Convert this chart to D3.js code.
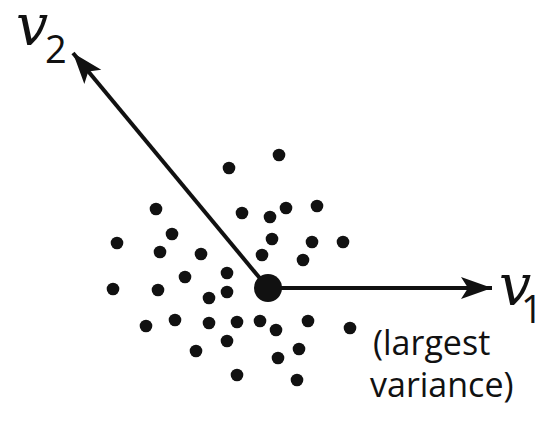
<!DOCTYPE html>
<html>
<head>
<meta charset="utf-8">
<script src="https://cdn.jsdelivr.net/npm/d3@7"></script>
<style>
  body { margin: 0; background: #fff; }
  svg { display: block; }
</style>
</head>
<body>
<div id="chart"></div>
<script>
// scatter points (in pixel-like units)
const dotX = [279, 229, 156, 242, 270, 286, 317, 172, 117, 272, 312, 343, 160, 201, 262, 303,
  185, 227, 113, 158, 227, 209, 146, 175, 209, 237, 260, 276, 308, 350, 227, 196, 299, 278, 237, 297];
const dotY = [155, 168, 209, 213, 217, 208, 206, 234, 243, 239, 242, 242, 252, 254, 255, 260,
  277, 273, 289, 290, 292, 298, 326, 320, 323, 322, 321, 330, 321, 328, 341, 351, 349, 358, 375, 380];

// mean and the two principal directions
const center = { x: 268, y: 288 };
const vectors = [
  { name: "v", sub: "1", x: 492, y: 288 },
  { name: "v", sub: "2", x: 73, y: 53 }
];
const noteLines = ["(largest", "variance)"];

const width = 550;
const height = 422;

const x = d3.scaleLinear().domain([0, 550]).range([0, width]);
const y = d3.scaleLinear().domain([0, 422]).range([0, height]);

const svg = d3
  .select("#chart")
  .append("svg")
  .attr("width", width)
  .attr("height", height);

svg
  .append("defs")
  .append("marker")
  .attr("id", "head")
  .attr("viewBox", "-32 -12 34 24")
  .attr("refX", 0)
  .attr("refY", 0)
  .attr("markerUnits", "userSpaceOnUse")
  .attr("markerWidth", 34)
  .attr("markerHeight", 24)
  .attr("orient", "auto")
  .append("path")
  .attr("d", "M0,0 L-31,-11 L-24,0 L-31,11 Z")
  .attr("fill", "#111");

const dots = dotX.map((d, i) => ({ x: d, y: dotY[i] }));

svg
  .selectAll("circle.dot")
  .data(dots)
  .join("circle")
  .attr("class", "dot")
  .attr("cx", (d) => x(d.x))
  .attr("cy", (d) => y(d.y))
  .attr("r", 6.3)
  .attr("fill", "#111");

svg
  .selectAll("line.vec")
  .data(vectors)
  .join("line")
  .attr("class", "vec")
  .attr("x1", x(center.x))
  .attr("y1", y(center.y))
  .attr("x2", (d) => x(d.x))
  .attr("y2", (d) => y(d.y))
  .attr("stroke", "#111")
  .attr("stroke-width", 4)
  .attr("marker-end", "url(#head)");

svg
  .append("circle")
  .attr("cx", x(center.x))
  .attr("cy", y(center.y))
  .attr("r", 14)
  .attr("fill", "#111");

// vector labels
const labelPos = [
  { x: 499, y: 305, subX: 521, subY: 323 },
  { x: 16, y: 45, subX: 45, subY: 63 }
];

vectors.forEach((v, i) => {
  const p = labelPos[i];
  svg
    .append("text")
    .attr("x", x(p.x))
    .attr("y", y(p.y))
    .attr("font-family", "DejaVu Serif")
    .attr("font-style", "italic")
    .attr("font-size", 57)
    .attr("fill", "#111")
    .text(v.name);
  svg
    .append("text")
    .attr("x", x(p.subX))
    .attr("y", y(p.subY))
    .attr("font-family", "Open Sans")
    .attr("font-size", 38)
    .attr("fill", "#111")
    .text(v.sub);
});

svg
  .append("text")
  .attr("font-family", "Open Sans")
  .attr("font-size", 34)
  .attr("fill", "#111")
  .selectAll("tspan")
  .data(noteLines)
  .join("tspan")
  .attr("x", (d, i) => x(i === 0 ? 373 : 370))
  .attr("y", (d, i) => y(i === 0 ? 355 : 397))
  .text((d) => d);
</script>
</body>
</html>
